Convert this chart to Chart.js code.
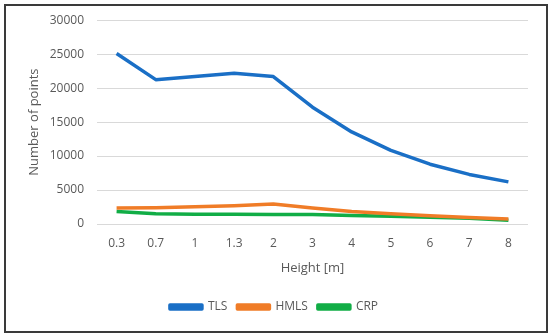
<!DOCTYPE html>
<html>
<head>
<meta charset="utf-8">
<script src="https://cdn.jsdelivr.net/npm/chart.js@4"></script>
<style>
  html, body { margin: 0; padding: 0; background: #fff; }
  #wrap { position: relative; width: 550px; height: 334px; }
  #frame { position: absolute; left: 4px; top: 4px; width: 540px; height: 325px;
           border: 2px solid #3a3a3a; pointer-events: none; }
</style>
</head>
<body>
<div id="wrap">
  <canvas id="chart" width="550" height="334"></canvas>
  <div id="frame"></div>
</div>
<script>
// ============================================================
// DATA
// ============================================================
const heights = ['0.3', '0.7', '1', '1.3', '2', '3', '4', '5', '6', '7', '8'];
const tls  = [25100, 21250, 21700, 22200, 21700, 17200, 13550, 10850, 8800, 7300, 6200];
const hmls = [2350, 2400, 2550, 2700, 2950, 2350, 1850, 1500, 1200, 950, 750];
const crp  = [1850, 1500, 1450, 1450, 1400, 1400, 1250, 1150, 1000, 850, 550];
const yTicks = [0, 5000, 10000, 15000, 20000, 25000, 30000];

const FONT = '"Open Sans", Lato, sans-serif';
const GREY = '#595959';

function series(label, data, color) {
  return {
    label, data,
    borderColor: color,
    backgroundColor: color,
    borderWidth: 3.5,
    pointRadius: 0,
    tension: 0,
    borderJoinStyle: 'round',
  };
}

new Chart(document.getElementById('chart'), {
  type: 'line',
  data: {
    labels: heights,
    datasets: [
      series('TLS',  tls,  '#1a6fc6'),
      series('HMLS', hmls, '#f07c27'),
      series('CRP',  crp,  '#11ad46'),
    ]
  },
  options: {
    responsive: false,
    animation: false,
    layout: { padding: { left: 20, right: 22, top: 17, bottom: 11 } },
    plugins: {
      tooltip: { enabled: false },
      legend: {
        position: 'bottom',
        labels: {
          color: GREY, font: { family: FONT, size: 12 },
          boxWidth: 32, boxHeight: 4, padding: 10,
        }
      }
    },
    scales: {
      x: {
        offset: true,
        grid: { display: false },
        border: { display: false },
        ticks: { color: GREY, font: { family: FONT, size: 12 }, padding: 4 },
        title: { display: true, text: 'Height [m]', color: GREY,
                 font: { family: FONT, size: 13 }, padding: { top: 6, bottom: 15 } },
      },
      y: {
        min: 0, max: 30000,
        afterBuildTicks: s => { s.ticks = yTicks.map(v => ({ value: v })); },
        afterFit: s => { s.width = 77; },
        grid: { color: '#d9d9d9', lineWidth: 1, drawTicks: false },
        border: { display: false },
        ticks: { color: GREY, font: { family: FONT, size: 12 }, padding: 13,
                 callback: v => String(v) },
        title: { display: true, text: 'Number of points', color: GREY,
                 font: { family: FONT, size: 13 }, padding: { top: 6, bottom: 0 } },
      }
    }
  }
});
</script>
</body>
</html>
